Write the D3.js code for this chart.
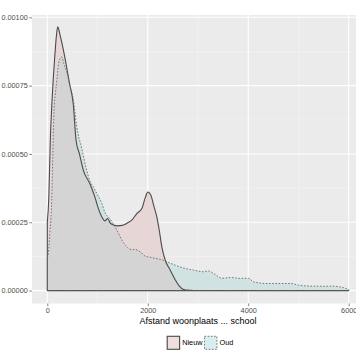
<!DOCTYPE html>
<html><head><meta charset="utf-8">
<script src="https://cdn.jsdelivr.net/npm/d3@7"></script>
<style>
html,body{margin:0;padding:0;background:#fff;}
svg{display:block;font-family:"Liberation Sans",Arial,Helvetica,sans-serif;}
</style></head>
<body>
<svg id="chart" width="356" height="364"></svg>
<script>
// ---- data ----
const nieuwX = [0,30,60,90,120,150,180,207,260,353,440,518,572,640,718,851,951,1017,1084,1150,1200,1250,1320,1400,1515,1600,1682,1782,1882,1950,2001,2060,2120,2180,2230,2280,2346,2446,2545,2620,2711,2850,3000,4000,5000,6000];
const nieuwY = [0.00025,0.00034,0.00055,0.00068,0.00078,0.00086,0.00093,0.000965,0.00093,0.00085,0.00076,0.00068,0.00055,0.0005,0.00044,0.00039,0.00034,0.0003,0.00027,0.000255,0.000264,0.000248,0.00024,0.000237,0.00024,0.000248,0.000258,0.000282,0.0003,0.00034,0.000361,0.00035,0.00031,0.00027,0.00022,0.00016,0.000112,0.000075,0.00004,0.000018,0.000004,0.000001,0,0,0,0];
const oudX = [0,20,50,88,110,134,160,190,219,255,287,330,387,450,518,586,686,785,850,917,1000,1084,1150,1250,1349,1416,1483,1560,1614,1700,1748,1848,1948,2047,2147,2280,2400,2546,2745,2910,3109,3209,3309,3476,3642,3841,4006,4106,4373,4639,4838,5003,5336,5669,5868,6000];
const oudY = [0.00012,0.000137,0.00021,0.00033,0.0005,0.00066,0.00072,0.00077,0.000825,0.00085,0.000855,0.00083,0.0008,0.00075,0.0007,0.0006,0.00052,0.00044,0.0004,0.00038,0.00035,0.00032,0.000285,0.000262,0.000233,0.00021,0.000185,0.000165,0.000154,0.00015,0.00015,0.000142,0.000126,0.000122,0.000118,0.000113,0.000104,0.000093,0.000081,0.000075,0.000069,0.000072,0.000063,0.000045,0.000048,0.000045,0.000045,0.000032,0.000026,0.000026,0.000026,0.00002,0.000016,0.000016,0.000012,0.000004];
const xTicks = [0,2000,4000,6000];
const xMinor = [1000,3000,5000];
const yTicks = [0,0.00025,0.0005,0.00075,0.001];
const yMinor = [0.000125,0.000375,0.000625,0.000875];
const groups = ["Nieuw","Oud"];
const xTitle = "Afstand woonplaats ... school";

// ---- layout ----
const svg = d3.select("#chart");
const P = {l:32, r:364, t:15, b:303.5};
const x = d3.scaleLinear().domain([0,6000]).range([47.3,348.7]);
const y = d3.scaleLinear().domain([0,0.001]).range([290.6,17.3]);

svg.append("rect").attr("x",P.l).attr("y",P.t).attr("width",P.r-P.l).attr("height",P.b-P.t).attr("fill","#ebebeb");

const grid = svg.append("g");
grid.selectAll(".xm").data(xMinor).join("line").attr("x1",d=>x(d)).attr("x2",d=>x(d)).attr("y1",P.t).attr("y2",P.b).attr("stroke","#f5f5f5").attr("stroke-width",0.6);
grid.selectAll(".ym").data(yMinor).join("line").attr("y1",d=>y(d)).attr("y2",d=>y(d)).attr("x1",P.l).attr("x2",P.r).attr("stroke","#f5f5f5").attr("stroke-width",0.6);
grid.selectAll(".xM").data(xTicks).join("line").attr("x1",d=>x(d)).attr("x2",d=>x(d)).attr("y1",P.t).attr("y2",P.b).attr("stroke","#fff").attr("stroke-width",1.1);
grid.selectAll(".yM").data(yTicks).join("line").attr("y1",d=>y(d)).attr("y2",d=>y(d)).attr("x1",P.l).attr("x2",P.r).attr("stroke","#fff").attr("stroke-width",1.1);

const nieuw = nieuwX.map((v,i)=>({v, d:nieuwY[i]}));
const oud = oudX.map((v,i)=>({v, d:oudY[i]}));
const area = d3.area().x(p=>x(p.v)).y0(y(0)).y1(p=>y(p.d)).curve(d3.curveMonotoneX);

const defs = svg.append("defs");
defs.append("clipPath").attr("id","oudClip").append("path").attr("d",area(oud));
defs.append("clipPath").attr("id","panelClip").append("rect").attr("x",P.l).attr("y",P.t).attr("width",P.r-P.l).attr("height",P.b-P.t);

const g = svg.append("g").attr("clip-path","url(#panelClip)");
g.append("path").attr("d",area(nieuw)).attr("fill","#e6d6d6");
g.append("path").attr("d",area(oud)).attr("fill","#d0e2e2");
g.append("path").attr("d",area(nieuw)).attr("fill","#d4d4d5").attr("clip-path","url(#oudClip)");
g.append("path").attr("d",area(nieuw)).attr("fill","none").attr("stroke","#4a4a4a").attr("stroke-width",1.1).attr("stroke-linejoin","round");
g.append("path").attr("d",area(oud)).attr("fill","none").attr("stroke","#6a6a6a").attr("stroke-width",0.9).attr("stroke-dasharray","1.6,1.6");

// axes
const yAxis = d3.axisLeft(y).tickValues(yTicks).tickFormat(d3.format(".5f")).tickSize(2.7).tickPadding(1.5);
const ya = svg.append("g").attr("transform",`translate(${P.l},0)`).call(yAxis);
const xAxis = d3.axisBottom(x).tickValues(xTicks).tickFormat(d3.format("d")).tickSize(2.7).tickPadding(1.8);
const xa = svg.append("g").attr("transform",`translate(0,${P.b})`).call(xAxis);
[ya,xa].forEach(a=>{
  a.select(".domain").remove();
  a.selectAll(".tick line").attr("stroke","#333").attr("stroke-width",0.6);
  a.selectAll(".tick text").attr("fill","#4d4d4d").style("font-size","7.3px").style("font-family","'Liberation Sans',Arial,sans-serif");
});

svg.append("text").attr("x",198).attr("y",324).attr("text-anchor","middle").attr("fill","#000").style("font-size","9px").text(xTitle);

// legend
const legX = [166.7, 204];
const keyFill = ["#f0dede","#d8eeee"];
const keyStroke = [null,"1.6,1.6"];
const leg = svg.append("g");
groups.forEach((name,i)=>{
  leg.append("rect").attr("x",legX[i]).attr("y",335.8).attr("width",13.4).attr("height",14).attr("fill","#f2f2f2");
  leg.append("rect").attr("x",legX[i]+0.5).attr("y",336.3).attr("width",12.4).attr("height",13).attr("fill",keyFill[i])
    .attr("stroke",i===0?"#4a4a4a":"#6a6a6a").attr("stroke-width",i===0?1.1:0.9).attr("stroke-dasharray",keyStroke[i]);
  leg.append("text").attr("x",legX[i]+15.5).attr("y",345.4).attr("fill","#000").style("font-size","7.3px").text(name);
});
</script>
</body></html>
